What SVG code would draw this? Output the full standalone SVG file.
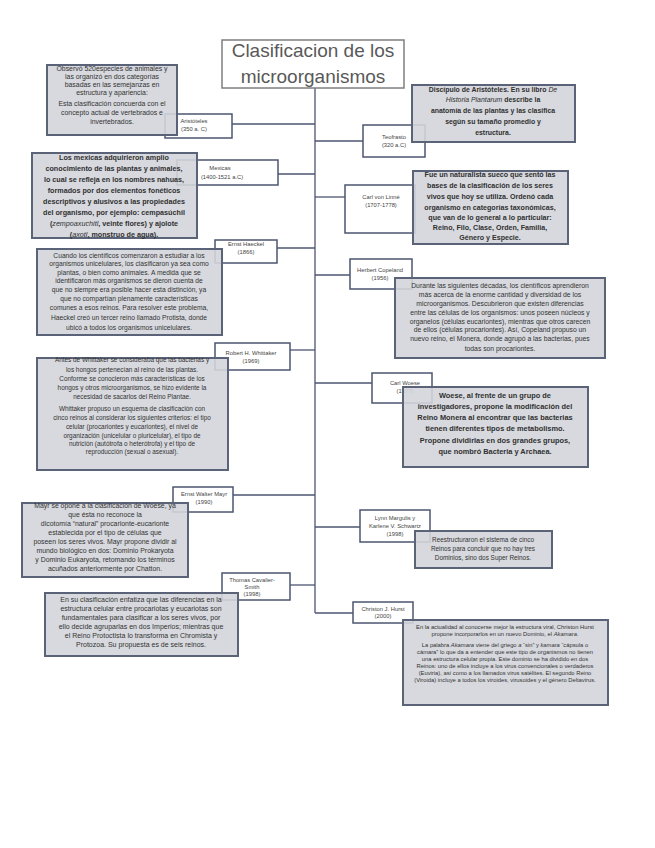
<svg xmlns="http://www.w3.org/2000/svg" width="655" height="848" viewBox="0 0 655 848">
<style>
.tb{fill:#d3d5da;fill-opacity:0.9;stroke:#5a6378;stroke-width:2}
.lb{fill:#fff;stroke:#4c5570;stroke-width:1.5}
.t{font-family:"Liberation Sans",Arial,sans-serif;fill:#333;text-anchor:middle}
.b{font-weight:bold;fill:#303030}
.l{font-family:"Liberation Sans",Arial,sans-serif;font-size:5.8px;fill:#444;text-anchor:middle}
.c{stroke:#4c5570;stroke-width:1.3;fill:none}
</style>
<rect width="655" height="848" fill="#fff"/>
<g id="connectors">
<line class="c" x1="315" y1="88" x2="315" y2="613"/>
<line class="c" x1="232" y1="124" x2="315" y2="124"/>
<line class="c" x1="315" y1="141" x2="363" y2="141"/>
<line class="c" x1="278" y1="174" x2="315" y2="174"/>
<line class="c" x1="315" y1="197" x2="345" y2="197"/>
<line class="c" x1="277" y1="248" x2="315" y2="248"/>
<line class="c" x1="315" y1="275" x2="350" y2="275"/>
<line class="c" x1="290" y1="350" x2="315" y2="350"/>
<line class="c" x1="315" y1="383" x2="372" y2="383"/>
<line class="c" x1="233" y1="495" x2="315" y2="495"/>
<line class="c" x1="315" y1="527" x2="360" y2="527"/>
<line class="c" x1="290" y1="585" x2="315" y2="585"/>
<line class="c" x1="315" y1="613" x2="353" y2="613"/>
</g>
<g id="title">
<rect x="222" y="40" width="182" height="48" fill="#fff" stroke="#7f7f7f" stroke-width="1.5"/>
<text class="t" x="313" y="57" font-size="19" style="fill:#595959">Clasificacion de los</text>
<text class="t" x="313" y="83" font-size="19" style="fill:#595959">microorganismos</text>
</g>
<g id="aristoteles">
<rect class="lb" x="165" y="114" width="67" height="24"/>
<text class="l" x="194" y="123">Aristóteles</text>
<text class="l" x="194" y="131">(350 a. C)</text>
<rect class="tb" x="47" y="65" width="130" height="70"/>
<g class="t" font-size="6.9">
<text x="112" y="71">Observó 520especies de animales y</text>
<text x="112" y="79">las organizó en dos categorías</text>
<text x="112" y="87">basadas en las semejanzas en</text>
<text x="112" y="95">estructura y apariencia:</text>
<text x="112" y="106">Esta clasificación concuerda con el</text>
<text x="112" y="115">concepto actual de vertebrados e</text>
<text x="112" y="124">invertebrados.</text>
</g>
</g>
<g id="teofrasto">
<rect class="lb" x="363" y="125" width="62" height="32"/>
<text class="l" x="394" y="139">Teofrasto</text>
<text class="l" x="394" y="147">(320 a.C)</text>
<rect class="tb" x="412" y="85" width="163" height="57"/>
<g class="t b" font-size="6.9">
<text x="493" y="92">Discípulo de Aristóteles. En su libro <tspan font-style="italic" font-weight="normal">De</tspan></text>
<text x="493" y="102"><tspan font-style="italic" font-weight="normal">Historia Plantarum</tspan> describe la</text>
<text x="493" y="113">anatomía de las plantas y las clasifica</text>
<text x="493" y="124">según su tamaño promedio y</text>
<text x="493" y="135">estructura.</text>
</g>
</g>
<g id="mexicas">
<rect class="lb" x="177" y="160" width="101" height="25"/>
<text class="l" x="220" y="170">Mexicas</text>
<text class="l" x="222" y="179">(1400-1521 a.C)</text>
<rect class="tb" x="32" y="153" width="165" height="85"/>
<g class="t b" font-size="7.2">
<text x="114" y="160">Los mexicas adquirieron amplio</text>
<text x="114" y="171">conocimiento de las plantas y animales,</text>
<text x="114" y="182">lo cual se refleja en los nombres nahuas,</text>
<text x="114" y="193">formados por dos elementos fonéticos</text>
<text x="114" y="204">descriptivos y alusivos a las propiedades</text>
<text x="114" y="215">del organismo, por ejemplo: cempasúchil</text>
<text x="114" y="226">(<tspan font-style="italic" font-weight="normal">zempoaxuchitl</tspan>, veinte flores) y ajolote</text>
<text x="114" y="237">(<tspan font-style="italic" font-weight="normal">axotl</tspan>, monstruo de agua).</text>
</g>
</g>
<g id="linne">
<rect class="lb" x="345" y="185" width="70" height="48"/>
<text class="l" x="381" y="199">Carl von Linné</text>
<text class="l" x="381" y="207">(1707-1778)</text>
<rect class="tb" x="413" y="171" width="155" height="73"/>
<g class="t b" font-size="7.1">
<text x="490" y="177">Fue un naturalista sueco que sentó las</text>
<text x="490" y="188">bases de la clasificación de los seres</text>
<text x="490" y="199">vivos que hoy se utiliza. Ordenó cada</text>
<text x="490" y="210">organismo en categorías taxonómicas,</text>
<text x="490" y="220">que van de lo general a lo particular:</text>
<text x="490" y="230">Reino, Filo, Clase, Orden, Familia,</text>
<text x="490" y="240">Género y Especie.</text>
</g>
</g>
<g id="haeckel">
<rect class="lb" x="215" y="240" width="62" height="23"/>
<text class="l" x="246" y="246">Ernst Haeckel</text>
<text class="l" x="246" y="254">(1866)</text>
<rect class="tb" x="37" y="249" width="185" height="86"/>
<g class="t" font-size="6.7">
<text x="129" y="258">Cuando los científicos comenzaron a estudiar a los</text>
<text x="129" y="266">organismos unicelulares, los clasificaron ya sea como</text>
<text x="129" y="275">plantas, o bien como animales. A medida que se</text>
<text x="129" y="283">identificaron más organismos se dieron cuenta de</text>
<text x="129" y="292">que no siempre era posible hacer esta distinción, ya</text>
<text x="129" y="301">que no compartían plenamente características</text>
<text x="129" y="310">comunes a esos reinos. Para resolver este problema,</text>
<text x="129" y="320">Haeckel creó un tercer reino llamado Protista, donde</text>
<text x="129" y="330">ubicó a todos los organismos unicelulares.</text>
</g>
</g>
<g id="copeland">
<rect class="lb" x="350" y="259" width="62" height="30"/>
<text class="l" x="380" y="272">Herbert Copeland</text>
<text class="l" x="380" y="280">(1956)</text>
<rect class="tb" x="395" y="278" width="210" height="80"/>
<g class="t" font-size="6.8">
<text x="500" y="288">Durante las siguientes décadas, los científicos aprendieron</text>
<text x="500" y="297">más acerca de la enorme cantidad y diversidad de los</text>
<text x="500" y="306">microorganismos. Descubrieron que existen diferencias</text>
<text x="500" y="315">entre las células de los organismos: unos poseen núcleos y</text>
<text x="500" y="324">organelos (células eucariontes), mientras que otros carecen</text>
<text x="500" y="332">de ellos (células procariontes). Así, Copeland propuso un</text>
<text x="500" y="341">nuevo reino, el Monera, donde agrupó a las bacterias, pues</text>
<text x="500" y="351">todas son procariontes.</text>
</g>
</g>
<g id="whittaker">
<rect class="lb" x="215" y="343" width="75" height="27"/>
<text class="l" x="251" y="355">Robert H. Whittaker</text>
<text class="l" x="251" y="363">(1969)</text>
<rect class="tb" x="37" y="358" width="191" height="112"/>
<g class="t" font-size="6.4">
<text x="132" y="362">Antes de Whittaker se consideraba que las bacterias y</text>
<text x="132" y="372">los hongos pertenecían al reino de las plantas.</text>
<text x="132" y="381">Conforme se conocieron más características de los</text>
<text x="132" y="390">hongos y otros microorganismos, se hizo evidente la</text>
<text x="132" y="399">necesidad de sacarlos del Reino Plantae.</text>
<text x="132" y="411">Whittaker propuso un esquema de clasificación con</text>
<text x="132" y="420">cinco reinos al considerar los siguientes criterios: el tipo</text>
<text x="132" y="429">celular (procariontes y eucariontes), el nivel de</text>
<text x="132" y="438">organización (unicelular o pluricelular), el tipo de</text>
<text x="132" y="446">nutrición (autótrofa o heterótrofa) y el tipo de</text>
<text x="132" y="454">reproducción (sexual o asexual).</text>
</g>
</g>
<g id="woese">
<rect class="lb" x="372" y="373" width="60" height="30"/>
<text class="l" x="405" y="385">Carl Woese</text>
<text class="l" x="405" y="393">(1977)</text>
<rect class="tb" x="403" y="387" width="185" height="80"/>
<g class="t b" font-size="7.4">
<text x="495" y="398">Woese, al frente de un grupo de</text>
<text x="495" y="409">investigadores, propone la modificación del</text>
<text x="495" y="420">Reino Monera al encontrar que las bacterias</text>
<text x="495" y="431">tienen diferentes tipos de metabolismo.</text>
<text x="495" y="443">Propone dividirlas en dos grandes grupos,</text>
<text x="495" y="454">que nombró Bacteria y Archaea.</text>
</g>
</g>
<g id="mayr">
<rect class="lb" x="173" y="487" width="60" height="25"/>
<text class="l" x="204" y="496">Ernst Walter Mayr</text>
<text class="l" x="204" y="504">(1990)</text>
<rect class="tb" x="22" y="503" width="166" height="74"/>
<g class="t" font-size="6.9">
<text x="105" y="508">Mayr se opone a la clasificación de Woese, ya</text>
<text x="105" y="517">que ésta no reconoce la</text>
<text x="105" y="526">dicotomía “natural” procarionte-eucarionte</text>
<text x="105" y="535">establecida por el tipo de células que</text>
<text x="105" y="544">poseen los seres vivos. Mayr propone dividir al</text>
<text x="105" y="553">mundo biológico en dos: Dominio Prokaryota</text>
<text x="105" y="562">y Dominio Eukaryota, retomando los términos</text>
<text x="105" y="571">acuñados anteriormente por Chatton.</text>
</g>
</g>
<g id="margulis">
<rect class="lb" x="360" y="510" width="70" height="32"/>
<text class="l" x="395" y="520">Lynn Margulis y</text>
<text class="l" x="395" y="528">Karlene V. Schwartz</text>
<text class="l" x="395" y="536">(1998)</text>
<rect class="tb" x="415" y="531" width="137" height="37"/>
<g class="t" font-size="6.4">
<text x="483" y="542">Reestructuraron el sistema de cinco</text>
<text x="483" y="551">Reinos para concluir que no hay tres</text>
<text x="483" y="560">Dominios, sino dos Super Reinos.</text>
</g>
</g>
<g id="cavalier-smith">
<rect class="lb" x="222" y="573" width="68" height="27"/>
<text class="l" x="252" y="582">Thomas Cavalier-</text>
<text class="l" x="252" y="589">Smith</text>
<text class="l" x="252" y="596">(1998)</text>
<rect class="tb" x="45" y="593" width="193" height="63"/>
<g class="t" font-size="7">
<text x="141" y="602">En su clasificación enfatiza que las diferencias en la</text>
<text x="141" y="611">estructura celular entre procariotas y eucariotas son</text>
<text x="141" y="620">fundamentales para clasificar a los seres vivos, por</text>
<text x="141" y="629">ello decide agruparlas en dos Imperios; mientras que</text>
<text x="141" y="638">el Reino Protoctista lo transforma en Chromista y</text>
<text x="141" y="647">Protozoa. Su propuesta es de seis reinos.</text>
</g>
</g>
<g id="hurst">
<rect class="lb" x="353" y="602" width="60" height="21"/>
<text class="l" x="383" y="611">Christon J. Hurst</text>
<text class="l" x="383" y="618">(2000)</text>
<rect class="tb" x="403" y="620" width="205" height="85"/>
<g class="t" font-size="5.8">
<text x="505" y="629">En la actualidad al conocerse mejor la estructura viral, Christon Hurst</text>
<text x="505" y="636">propone incorporarlos en un nuevo Dominio, el <tspan font-style="italic">Akamara</tspan>.</text>
<text x="505" y="647">La palabra <tspan font-style="italic">Akamara</tspan> viene del griego <tspan font-style="italic">a</tspan> “sin” y <tspan font-style="italic">kamara</tspan> “cápsula o</text>
<text x="505" y="654">cámara” lo que da a entender que este tipo de organismos no tienen</text>
<text x="505" y="661">una estructura celular propia. Este dominio se ha dividido en dos</text>
<text x="505" y="668">Reinos: uno de ellos incluye a los virus convencionales o verdaderos</text>
<text x="505" y="675">(Euviria), así como a los llamados virus satélites. El segundo Reino</text>
<text x="505" y="682">(Viroida) incluye a todos los viroides, virusoides y el género Deltavirus.</text>
</g>
</g>
</svg>
